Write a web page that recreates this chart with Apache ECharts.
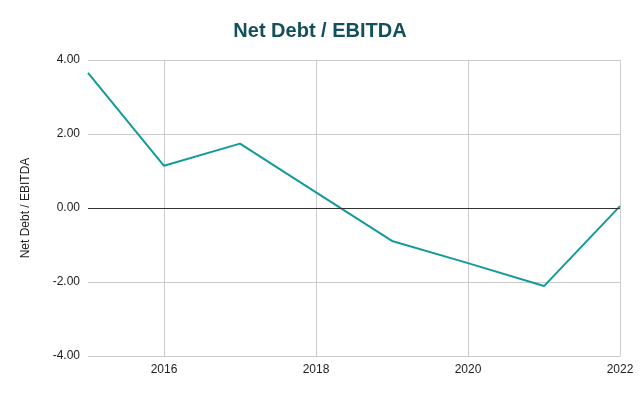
<!DOCTYPE html>
<html><head><meta charset="utf-8">
<script src="https://cdn.jsdelivr.net/npm/echarts@6/dist/echarts.min.js"></script>
<style>html,body{margin:0;padding:0;background:#fff}#c{width:640px;height:396px}</style>
</head><body><div id="c"></div>
<script>
const years = ['2015','2016','2017','2018','2019','2020','2021','2022'];
const netDebtEbitda = [3.65, 1.14, 1.74, 0.42, -0.89, -1.49, -2.11, 0.05];
const yTicks = {min: -4, max: 4, interval: 2};
const FONT = '"Liberation Sans", Arial, sans-serif';
const chart = echarts.init(document.getElementById('c'), null, {renderer: 'canvas'});
chart.setOption({
  animation: false,
  title: {text: 'Net Debt / EBITDA', left: 'center', top: 16,
    textStyle: {fontFamily: FONT, fontSize: 20, fontWeight: 'bold', color: '#134f5c'}},
  grid: {left: 88, right: 20, top: 60, bottom: 40},
  xAxis: {type: 'category', data: years, boundaryGap: false,
    axisLine: {show: false}, axisTick: {show: false},
    axisLabel: {interval: (i, v) => (+v) % 2 === 0, color: '#222', fontFamily: FONT, fontSize: 12, margin: 8},
    splitLine: {show: true, interval: (i, v) => (+v) % 2 === 0, lineStyle: {color: '#cccccc', width: 1}}},
  yAxis: {type: 'value', min: yTicks.min, max: yTicks.max, interval: yTicks.interval,
    name: 'Net Debt / EBITDA', nameLocation: 'middle', nameGap: 56, nameRotate: 90,
    nameTextStyle: {fontFamily: FONT, fontSize: 12, color: '#222'},
    axisLine: {show: false}, axisTick: {show: false},
    axisLabel: {formatter: v => v.toFixed(2), color: '#222', fontFamily: FONT, fontSize: 12, margin: 8},
    splitLine: {lineStyle: {color: '#cccccc', width: 1}}},
  series: [{type: 'line', data: netDebtEbitda, showSymbol: false, symbol: 'none',
    lineStyle: {color: '#139a9c', width: 2}, itemStyle: {color: '#139a9c'},
    markLine: {silent: true, symbol: 'none', label: {show: false},
      lineStyle: {color: '#333333', width: 1, type: 'solid'}, data: [{yAxis: 0}]}}]
});
</script></body></html>
